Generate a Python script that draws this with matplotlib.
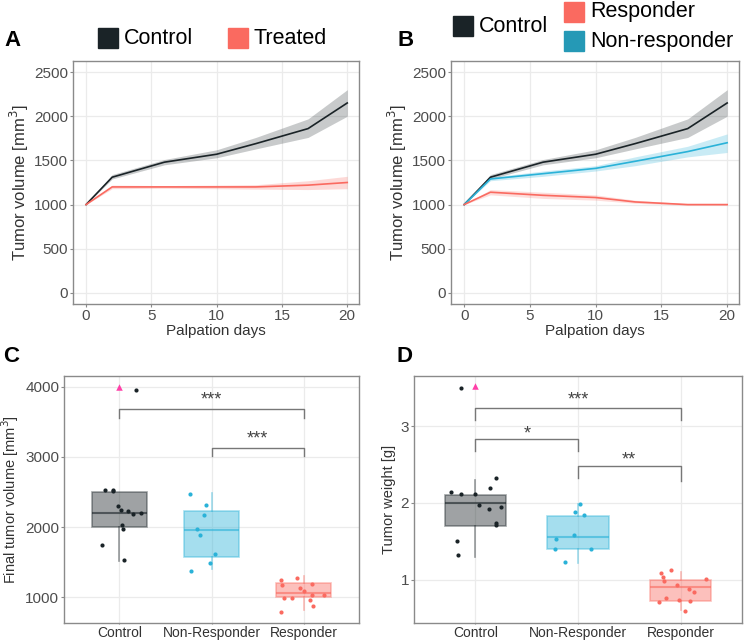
import matplotlib
matplotlib.use("Agg")
import matplotlib.pyplot as plt
from matplotlib.patches import Rectangle

plt.rcParams['font.family'] = ['Liberation Sans', 'DejaVu Sans']

# colours
c_ctrl = '#1a2327'
c_red = '#fa6a60'
c_blue = '#2ab2d8'
c_pink = '#ff40a8'

# growth curves (panel A and B)
days = [0, 2, 6, 10, 13, 17, 20]
ctrl_mean = [1000, 1310, 1480, 1570, 1690, 1860, 2150]
ctrl_lo = [1000, 1290, 1450, 1530, 1630, 1760, 2000]
ctrl_hi = [1000, 1340, 1510, 1620, 1760, 1970, 2300]
treat_mean = [1000, 1200, 1200, 1200, 1200, 1220, 1250]
treat_lo = [1000, 1180, 1185, 1180, 1175, 1170, 1180]
treat_hi = [1000, 1220, 1215, 1220, 1225, 1270, 1320]
nonresp_mean = [1000, 1290, 1350, 1410, 1490, 1600, 1700]
nonresp_lo = [1000, 1270, 1320, 1380, 1440, 1540, 1590]
nonresp_hi = [1000, 1310, 1380, 1440, 1540, 1660, 1800]
resp_mean = [1000, 1140, 1105, 1080, 1030, 1000, 1000]
resp_lo = [1000, 1110, 1070, 1050, 1015, 992, 992]
resp_hi = [1000, 1170, 1140, 1110, 1050, 1010, 1008]

groups = ['Control', 'Non-Responder', 'Responder']

# panel C: final tumour volume
vol_box = {  # q1, median, q3, whislo, whishi
    'Control': [2000, 2200, 2500, 1520, 2500],
    'Non-Responder': [1570, 1960, 2230, 1405, 2490],
    'Responder': [1000, 1055, 1195, 810, 1300],
}
vol_ctrl_off = [-0.155, -0.072, -0.065, -0.018, 0.018, 0.09, 0.144, 0.234, 0.025, 0.036, -0.19, 0.05, 0.18]
vol_ctrl = [2533, 2533, 2519, 2295, 2238, 2224, 2181, 2200, 2033, 1976, 1738, 1524, 3962]
vol_nr_off = [-0.237, -0.058, -0.086, -0.155, -0.13, 0.04, -0.011, -0.227]
vol_nr = [2476, 2314, 2176, 1976, 1881, 1619, 1486, 1367]
vol_r_off = [-0.25, -0.234, -0.076, -0.036, 0.0, 0.09, 0.09, 0.216, -0.216, -0.13, 0.068, 0.104, -0.25]
vol_r = [1238, 1167, 1276, 1129, 1081, 1181, 1024, 1024, 986, 986, 962, 867, 786]
vol_outlier = 4000

# panel D: tumour weight
wt_box = {
    'Control': [1.70, 2.00, 2.10, 1.30, 2.30],
    'Non-Responder': [1.40, 1.56, 1.83, 1.22, 1.99],
    'Responder': [0.725, 0.91, 1.00, 0.61, 1.10],
}
wt_ctrl_off = [-0.142, -0.239, -0.145, -0.006, 0.035, 0.132, 0.145, 0.203, 0.252, 0.203, 0.197, -0.184, -0.168]
wt_ctrl = [3.50, 2.14, 2.12, 2.11, 1.97, 1.92, 2.20, 2.33, 1.95, 1.74, 1.72, 1.50, 1.33]
wt_nr_off = [0.016, -0.032, 0.061, -0.042, -0.21, -0.226, 0.123, -0.123]
wt_nr = [1.99, 1.88, 1.84, 1.58, 1.53, 1.40, 1.40, 1.23]
wt_r_off = [-0.194, -0.094, -0.168, -0.158, 0.252, -0.032, 0.084, 0.129, -0.142, -0.016, 0.097, -0.206, 0.048]
wt_r = [1.09, 1.13, 1.04, 0.98, 1.01, 0.93, 0.88, 0.84, 0.77, 0.74, 0.72, 0.71, 0.59]
wt_outlier = 3.52

W, H = 744, 642
fig = plt.figure(figsize=(W / 100, H / 100), dpi=100)


def px_axes(left, top, right, bottom):
    return fig.add_axes([left / W, 1 - bottom / H, (right - left) / W, (bottom - top) / H])


def style(ax, size):
    ax.set_facecolor('white')
    ax.grid(True, color='#ebebeb', lw=0.9)
    ax.set_axisbelow(True)
    for s in ax.spines.values():
        s.set_color('#8a8a8a')
        s.set_linewidth(1.0)
    ax.tick_params(colors='#8a8a8a', labelcolor='#4d4d4d', length=2, pad=1.5, labelsize=size)


def growth(ax, series):
    style(ax, 11)
    for mean, lo, hi, col, a in series:
        ax.fill_between(days, lo, hi, color=col, alpha=a, lw=0)
        ax.plot(days, mean, color=col, lw=1.2)
    ax.set_xlim(-1, 20.9)
    ax.set_ylim(-125, 2625)
    ax.set_xticks([0, 5, 10, 15, 20])
    ax.set_yticks([0, 500, 1000, 1500, 2000, 2500])
    ax.set_xlabel('Palpation days', fontsize=11, color='#333333', labelpad=1)
    ax.set_ylabel('Tumor volume [mm$^3$]', fontsize=12, color='#333333', labelpad=2)


axA = px_axes(73, 61, 359, 304)
growth(axA, [(ctrl_mean, ctrl_lo, ctrl_hi, c_ctrl, 0.24),
             (treat_mean, treat_lo, treat_hi, c_red, 0.25)])

axB = px_axes(451, 61, 739, 304)
growth(axB, [(ctrl_mean, ctrl_lo, ctrl_hi, c_ctrl, 0.24),
             (nonresp_mean, nonresp_lo, nonresp_hi, c_blue, 0.25),
             (resp_mean, resp_lo, resp_hi, c_red, 0.22)])


def boxpanel(ax, boxes, pts, outlier, ylim, yticks, ylabel, brackets):
    style(ax, 11)
    cols = [c_ctrl, c_blue, c_red]
    stats = []
    for g in groups:
        q1, med, q3, lo, hi = boxes[g]
        stats.append(dict(q1=q1, med=med, q3=q3, whislo=lo, whishi=hi, fliers=[]))
    for i, (st, col) in enumerate(zip(stats, cols)):
        ax.bxp([st], positions=[i + 1], widths=0.6, patch_artist=True, showcaps=False,
               boxprops=dict(facecolor=col, alpha=0.42, edgecolor=col, lw=1.2),
               medianprops=dict(color=col, alpha=0.6, lw=1.5),
               whiskerprops=dict(color=col, alpha=0.45, lw=1.2))
    for i, ((off, vals), col) in enumerate(zip(pts, cols)):
        ax.scatter([i + 1 + o for o in off], vals, s=9, color=col, zorder=5, lw=0)
    ax.scatter([1], [outlier], marker='^', s=22, color=c_pink, zorder=5, lw=0)
    for x1, x2, y, d1, d2, lab, ty in brackets:
        ax.plot([x1, x1, x2, x2], [y - d1, y, y, y - d2], color='#777777', lw=1.0)
        ax.text((x1 + x2) / 2, ty, lab, ha='center', va='center', fontsize=13, color='#444444')
    ax.set_xlim(0.4, 3.6)
    ax.set_ylim(*ylim)
    ax.set_yticks(yticks)
    ax.set_xticks([1, 2, 3])
    ax.set_xticklabels(groups, fontsize=10, color='#333333')
    ax.tick_params(axis='x', length=1, pad=1)
    ax.set_ylabel(ylabel, fontsize=10.5, color='#333333', labelpad=3)


axC = px_axes(64, 376, 359, 623)
boxpanel(axC, vol_box,
         [(vol_ctrl_off, vol_ctrl), (vol_nr_off, vol_nr), (vol_r_off, vol_r)],
         vol_outlier, (630, 4155), [1000, 2000, 3000, 4000], 'Final tumor volume [mm$^3$]',
         [(1, 3, 3681, 120, 120, '***', 3810), (2, 3, 3129, 115, 115, '***', 3255)])

axD = px_axes(414, 376, 742, 623)
boxpanel(axD, wt_box,
         [(wt_ctrl_off, wt_ctrl), (wt_nr_off, wt_nr), (wt_r_off, wt_r)],
         wt_outlier, (0.44, 3.65), [1, 2, 3], 'Tumor weight [g]',
         [(1, 3, 3.23, 0.15, 0.15, '***', 3.34), (1, 2, 2.83, 0.15, 0.15, '*', 2.90),
          (2, 3, 2.48, 0.15, 0.2, '**', 2.56)])

# panel letters
for lab, x, y in [('A', 13, 40), ('B', 406, 40), ('C', 11, 357), ('D', 405, 357)]:
    fig.text(x / W, 1 - y / H, lab, fontsize=16, fontweight='bold', ha='center', va='center')


def legend_item(x, y, col, text):
    fig.add_artist(Rectangle((x / W, 1 - (y + 10) / H), 20 / W, 20 / H,
                             transform=fig.transFigure, color=col))
    fig.text((x + 26) / W, 1 - y / H, text, fontsize=15.5, va='center', ha='left')


legend_item(98, 38, c_ctrl, 'Control')
legend_item(228, 38, c_red, 'Treated')
legend_item(453, 26, c_ctrl, 'Control')
legend_item(564, 12, c_red, 'Responder')
legend_item(564, 41, '#2599b6', 'Non-responder')

fig.savefig('out.png', dpi=100)
